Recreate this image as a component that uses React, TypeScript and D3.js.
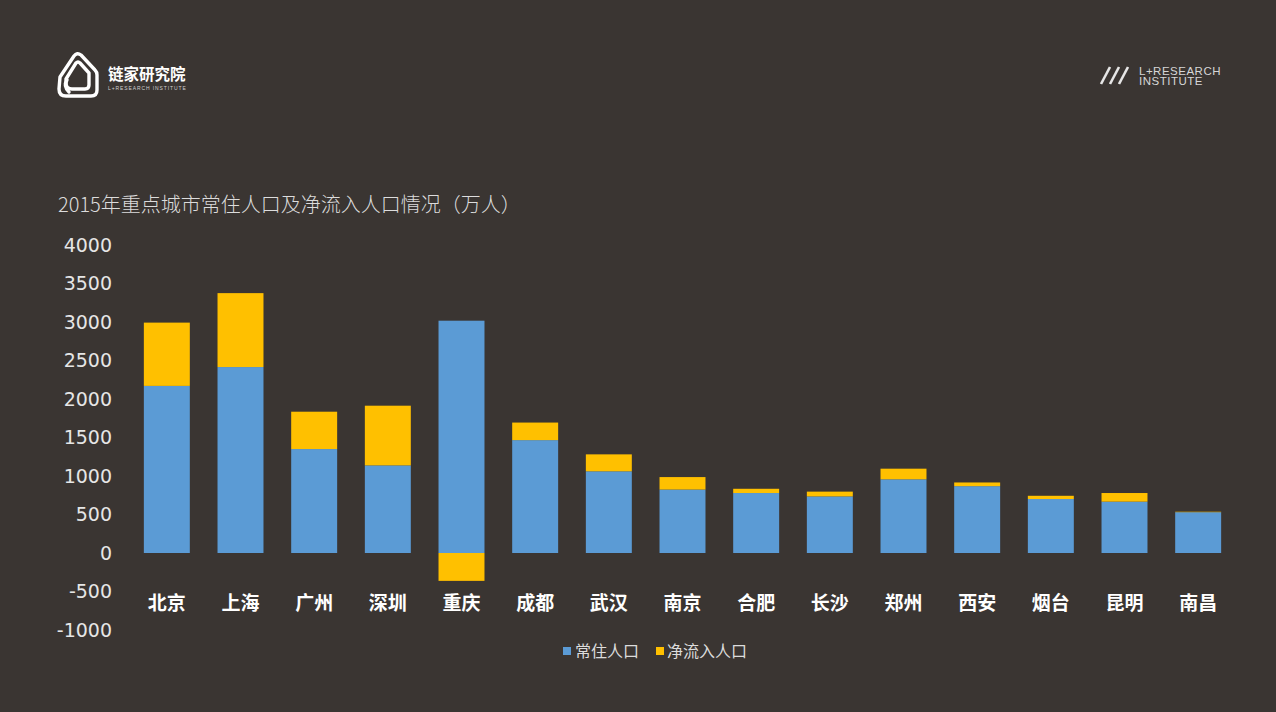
import React from "react";
import * as d3 from "d3";

const cities = ["北京", "上海", "广州", "深圳", "重庆", "成都", "武汉", "南京", "合肥", "长沙", "郑州", "西安", "烟台", "昆明", "南昌"];
const residentPop = [2170, 2415, 1350, 1138, 3017, 1466, 1061, 824, 779, 735, 957, 868, 701, 667, 530];
const netInflow = [822, 960, 485, 775, -362, 228, 220, 162, 55, 62, 138, 48, 42, 112, 6];
const seriesNames = ["常住人口", "净流入人口"];
const seriesColors = ["#5b9bd5", "#ffc000"];
const yTicks = [-1000, -500, 0, 500, 1000, 1500, 2000, 2500, 3000, 3500, 4000];
const title = "2015年重点城市常住人口及净流入人口情况（万人）";

const W = 1276;
const H = 712;
const BG = "#3a3532";

export default function App() {
  const rows = cities.map((c, i) => ({ city: c, a: residentPop[i], b: netInflow[i] }));
  const stack = d3.stack<any>().keys(["a", "b"]).offset(d3.stackOffsetDiverging);
  const series = stack(rows);

  const x = d3.scaleBand<string>().domain(cities).range([130, 1235]).paddingInner(0.376).paddingOuter(0.188);
  const y = d3.scaleLinear().domain([-1000, 4000]).range([630, 245]);

  const numFont = "'DejaVu Sans', sans-serif";
  const cjk = "'Noto Sans CJK SC', 'Noto Sans', sans-serif";

  return (
    <div style={{ position: "fixed", left: 0, top: 0, width: W, height: H, background: BG }}>
      <svg width={W} height={H} style={{ display: "block" }}>
        <rect x={0} y={0} width={W} height={H} fill={BG} />

        {/* top-left logo */}
        <g fill="none" stroke="#ffffff" strokeWidth={3.4} strokeLinejoin="round" strokeLinecap="round">
          <path d="M60,77 L74,56 Q77,52 81,55 L95,70 Q97,72 97,75 L97,90 Q97,96 91,96 L66,96 Q59,96 59,89 Z" />
          <path d="M66,79 L76,63 Q78,61 80,63 L89,73 L89,85 Q89,89 85,89 L72,89 Q66,89 66,83 Z" />
          <path d="M69,92 Q63,86 67,80" />
        </g>
        <text x={108} y={80} fill="#ffffff" fontFamily={cjk} fontWeight={700} fontSize={15.5}>链家研究院</text>
        <text x={108} y={89.5} fill="#cfcfcf" fontFamily="'Liberation Sans', sans-serif" fontSize={5} letterSpacing={0.9}>L+RESEARCH INSTITUTE</text>

        {/* top-right logo */}
        <g stroke="#e6e6e6" strokeWidth={2.6} strokeLinecap="butt">
          <line x1={1101} y1={84} x2={1110} y2={67} />
          <line x1={1110} y1={84} x2={1119} y2={67} />
          <line x1={1119} y1={84} x2={1128} y2={67} />
        </g>
        <text x={1139} y={75} fill="#d6d6d6" fontFamily="'Liberation Sans', sans-serif" fontSize={11.5} letterSpacing={0.5}>L+RESEARCH</text>
        <text x={1139} y={85} fill="#d6d6d6" fontFamily="'Liberation Sans', sans-serif" fontSize={11.5} letterSpacing={0.5}>INSTITUTE</text>

        {/* title */}
        <text x={58} y={212} fill="#dcdcdc" fontFamily={cjk} fontWeight={300} fontSize={20}>{title}</text>

        {/* y tick labels */}
        {yTicks.map((t) => (
          <text key={t} x={112} y={y(t)} dy="0.36em" textAnchor="end" fill="#e6e6e6" fontFamily={numFont} fontSize={19}>
            {t}
          </text>
        ))}

        {/* bars */}
        {series.map((s, si) => (
          <g key={si} fill={seriesColors[si]}>
            {s.map((d, i) => {
              const top = y(Math.max(d[0], d[1]));
              const bot = y(Math.min(d[0], d[1]));
              return <rect key={i} x={x(cities[i])} y={top} width={x.bandwidth()} height={Math.max(0, bot - top)} />;
            })}
          </g>
        ))}

        {/* category labels */}
        {cities.map((c) => (
          <text key={c} x={(x(c) as number) + x.bandwidth() / 2} y={603} dy="0.36em" textAnchor="middle" fill="#ffffff" fontFamily={cjk} fontWeight={700} fontSize={19}>
            {c}
          </text>
        ))}

        {/* legend */}
        <rect x={563} y={647} width={8} height={8} fill={seriesColors[0]} />
        <text x={575} y={651} dy="0.36em" fill="#dcdcdc" fontFamily={cjk} fontSize={16}>{seriesNames[0]}</text>
        <rect x={656} y={647} width={8} height={8} fill={seriesColors[1]} />
        <text x={667} y={651} dy="0.36em" fill="#dcdcdc" fontFamily={cjk} fontSize={16}>{seriesNames[1]}</text>
      </svg>
    </div>
  );
}
